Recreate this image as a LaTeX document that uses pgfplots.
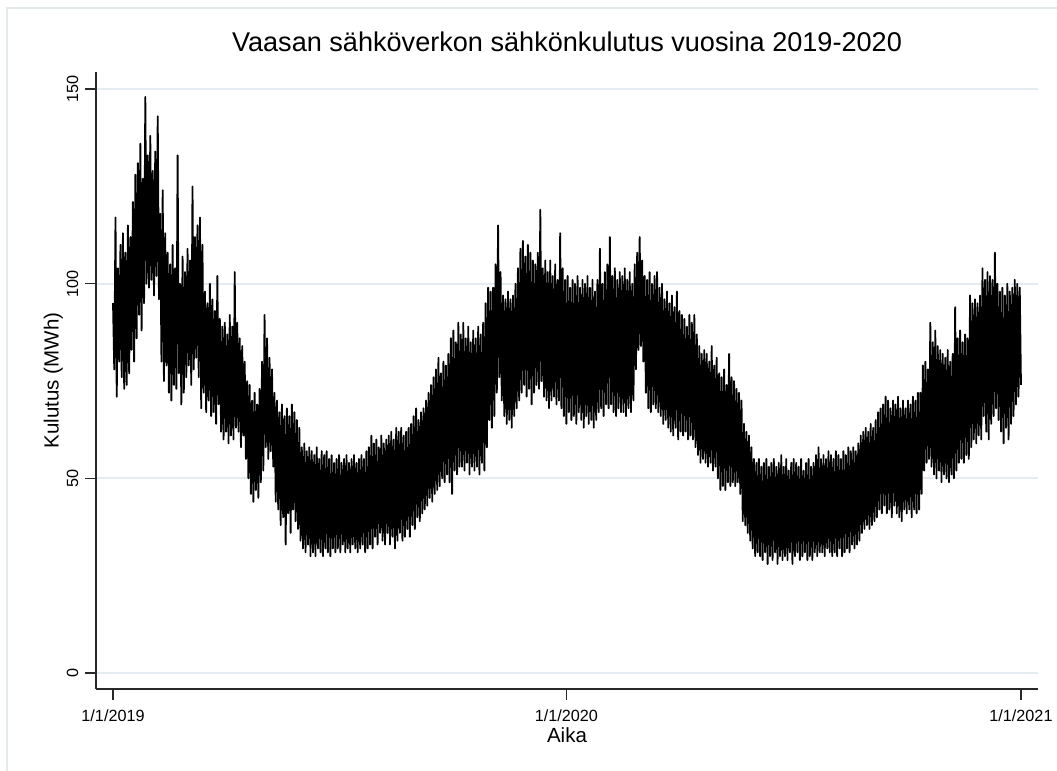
\documentclass[border=0pt]{standalone}
\usepackage{fontspec}
\setmainfont{Liberation Sans}
\usepackage{pgfplots}
\pgfplotsset{compat=1.18}
\definecolor{gridc}{RGB}{228,236,239}
\definecolor{framec}{RGB}{226,234,236}
\definecolor{axc}{RGB}{40,40,40}
\begin{document}
\begin{tikzpicture}
\useasboundingbox (0,0) rectangle (528.5pt,385.5pt);
\draw[framec, line width=1pt] (3.5pt,0pt) -- (3.5pt,381.5pt) -- (528.5pt,381.5pt);
\begin{axis}[
  at={(48pt,41pt)}, anchor=south west,
  scale only axis, width=471pt, height=308.5pt,
  xmin=-13.7, xmax=744.7, ymin=-4.1, ymax=154.4,
  axis x line*=bottom, axis y line*=left,
  axis line style={axc, line width=0.8pt, -},
  xtick={0,365,731}, xticklabels={1/1/2019,1/1/2020,1/1/2021},
  ytick={0,50,100,150},
  tick align=outside, major tick length=5.3pt,
  tick style={axc, line width=0.7pt},
  ymajorgrids, major grid style={gridc, line width=1pt},
  ticklabel style={font=\fontsize{8.1}{9.7}\selectfont},
  /pgf/number format/assume math mode=true,
  yticklabel style={rotate=90, anchor=south, inner sep=3.35pt},
  xticklabel style={anchor=north, inner sep=5pt},
  title={Vaasan sähköverkon sähkönkulutus vuosina 2019-2020},
  title style={at={(axis description cs:0.5,1.0135)}, anchor=base, font=\fontsize{13.55}{16}\selectfont, inner sep=0pt},
  xlabel={Aika},
  xlabel style={at={(axis description cs:0.5,-0.087)}, anchor=base, font=\fontsize{10.25}{12}\selectfont, inner sep=0pt},
  ylabel={Kulutus (MWh)},
  ylabel style={at={(axis description cs:-0.0398,0.5)}, anchor=base, font=\fontsize{10.25}{12}\selectfont, inner sep=0pt},
]
\addplot[black, line width=0.9pt, line join=round] coordinates {
(0,95)(1,78)(2,117)(3,71)(4,104)(5,80)(6,110)(7,76)(8,113)(9,73)
(10,108)(11,74)(12,115)(13,77)(14,112)(15,83)(16,121)(17,80)(18,128)(19,86)
(20,131)(21,92)(22,136)(23,88)(24,127)(25,95)(26,148)(27,100)(28,133)(29,99)
(30,138)(31,101)(32,129)(33,97)(34,134)(35,102)(36,143)(37,96)(38,118)(39,80)
(40,124)(41,75)(42,113)(43,79)(44,108)(45,72)(46,105)(47,70)(48,110)(49,74)
(50,104)(51,73)(52,133)(53,77)(54,100)(55,69)(56,107)(57,72)(58,103)(59,76)
(60,109)(61,79)(62,106)(63,74)(64,125)(65,78)(66,112)(67,81)(68,115)(69,76)
(70,117)(71,68)(72,110)(73,72)(74,98)(75,67)(76,95)(77,70)(78,100)(79,66)
(80,96)(81,67)(82,93)(83,64)(84,102)(85,69)(86,91)(87,62)(88,89)(89,60)
(90,90)(91,62)(92,87)(93,59)(94,92)(95,61)(96,89)(97,60)(98,103)(99,63)
(100,90)(101,62)(102,86)(103,58)(104,84)(105,61)(106,80)(107,55)(108,75)(109,50)
(110,74)(111,46)(112,70)(113,44)(114,72)(115,47)(116,69)(117,45)(118,73)(119,49)
(120,80)(121,52)(122,92)(123,58)(124,86)(125,55)(126,81)(127,57)(128,78)(129,53)
(130,72)(131,44)(132,70)(133,42)(134,67)(135,38)(136,69)(137,40)(138,66)(139,33)
(140,68)(141,41)(142,66)(143,36)(144,69)(145,42)(146,67)(147,39)(148,65)(149,37)
(150,63)(151,34)(152,58)(153,32)(154,59)(155,31)(156,57)(157,33)(158,58)(159,30)
(160,57)(161,31)(162,56)(163,30)(164,58)(165,32)(166,55)(167,31)(168,57)(169,30)
(170,56)(171,32)(172,57)(173,31)(174,55)(175,30)(176,56)(177,32)(178,54)(179,31)
(180,55)(181,32)(182,56)(183,31)(184,54)(185,33)(186,55)(187,31)(188,56)(189,32)
(190,54)(191,31)(192,55)(193,33)(194,56)(195,32)(196,54)(197,31)(198,55)(199,32)
(200,56)(201,33)(202,55)(203,31)(204,57)(205,32)(206,58)(207,33)(208,61)(209,32)
(210,59)(211,35)(212,60)(213,33)(214,58)(215,36)(216,61)(217,34)(218,59)(219,33)
(220,60)(221,36)(222,61)(223,33)(224,62)(225,35)(226,60)(227,32)(228,63)(229,34)
(230,62)(231,36)(232,63)(233,34)(234,61)(235,35)(236,62)(237,37)(238,63)(239,35)
(240,64)(241,38)(242,66)(243,37)(244,68)(245,40)(246,65)(247,39)(248,67)(249,41)
(250,68)(251,42)(252,70)(253,43)(254,72)(255,45)(256,74)(257,44)(258,76)(259,46)
(260,78)(261,47)(262,81)(263,48)(264,77)(265,50)(266,80)(267,49)(268,79)(269,51)
(270,82)(271,49)(272,86)(273,46)(274,88)(275,52)(276,85)(277,51)(278,90)(279,53)
(280,87)(281,53)(282,90)(283,52)(284,86)(285,54)(286,89)(287,51)(288,85)(289,53)
(290,88)(291,52)(292,86)(293,53)(294,89)(295,51)(296,87)(297,54)(298,90)(299,52)
(300,95)(301,58)(302,99)(303,65)(304,98)(305,63)(306,99)(307,66)(308,105)(309,72)
(310,115)(311,76)(312,103)(313,70)(314,97)(315,66)(316,96)(317,64)(318,98)(319,65)
(320,96)(321,63)(322,97)(323,66)(324,100)(325,68)(326,104)(327,70)(328,109)(329,72)
(330,111)(331,74)(332,107)(333,71)(334,110)(335,73)(336,108)(337,69)(338,106)(339,72)
(340,105)(341,74)(342,108)(343,73)(344,119)(345,75)(346,104)(347,71)(348,106)(349,70)
(350,103)(351,68)(352,106)(353,70)(354,102)(355,71)(356,105)(357,69)(358,101)(359,70)
(360,113)(361,68)(362,104)(363,66)(364,101)(365,64)(366,102)(367,67)(368,99)(369,65)
(370,101)(371,66)(372,100)(373,64)(374,102)(375,67)(376,99)(377,65)(378,101)(379,63)
(380,100)(381,66)(382,102)(383,64)(384,99)(385,65)(386,101)(387,63)(388,98)(389,65)
(390,101)(391,67)(392,109)(393,68)(394,100)(395,66)(396,103)(397,69)(398,105)(399,68)
(400,112)(401,69)(402,102)(403,67)(404,104)(405,66)(406,101)(407,68)(408,103)(409,67)
(410,102)(411,67)(412,104)(413,66)(414,101)(415,68)(416,103)(417,67)(418,100)(419,70)
(420,105)(421,78)(422,108)(423,83)(424,112)(425,84)(426,106)(427,80)(428,102)(429,72)
(430,101)(431,68)(432,103)(433,67)(434,100)(435,69)(436,102)(437,68)(438,103)(439,67)
(440,99)(441,66)(442,100)(443,64)(444,96)(445,65)(446,98)(447,63)(448,95)(449,62)
(450,97)(451,61)(452,94)(453,63)(454,98)(455,60)(456,93)(457,62)(458,92)(459,61)
(460,91)(461,62)(462,89)(463,60)(464,92)(465,61)(466,90)(467,60)(468,92)(469,58)
(470,87)(471,56)(472,84)(473,54)(474,82)(475,55)(476,83)(477,54)(478,82)(479,53)
(480,80)(481,54)(482,84)(483,52)(484,79)(485,53)(486,81)(487,50)(488,77)(489,47)
(490,76)(491,48)(492,78)(493,47)(494,74)(495,49)(496,82)(497,48)(498,76)(499,49)
(500,75)(501,48)(502,73)(503,49)(504,72)(505,46)(506,70)(507,39)(508,64)(509,38)
(510,62)(511,36)(512,61)(513,34)(514,58)(515,32)(516,55)(517,30)(518,54)(519,31)
(520,55)(521,30)(522,53)(523,29)(524,54)(525,31)(526,55)(527,28)(528,53)(529,30)
(530,54)(531,29)(532,55)(533,31)(534,53)(535,28)(536,54)(537,30)(538,56)(539,29)
(540,53)(541,30)(542,55)(543,29)(544,52)(545,31)(546,54)(547,28)(548,55)(549,30)
(550,54)(551,31)(552,53)(553,29)(554,55)(555,30)(556,52)(557,31)(558,54)(559,29)
(560,55)(561,30)(562,53)(563,29)(564,54)(565,31)(566,56)(567,30)(568,58)(569,31)
(570,55)(571,31)(572,56)(573,30)(574,55)(575,32)(576,57)(577,31)(578,56)(579,30)
(580,55)(581,31)(582,57)(583,30)(584,56)(585,32)(586,55)(587,30)(588,57)(589,31)
(590,56)(591,32)(592,58)(593,31)(594,57)(595,33)(596,58)(597,32)(598,57)(599,33)
(600,59)(601,34)(602,61)(603,36)(604,62)(605,37)(606,63)(607,38)(608,62)(609,37)
(610,64)(611,38)(612,63)(613,39)(614,65)(615,40)(616,67)(617,42)(618,68)(619,41)
(620,69)(621,43)(622,71)(623,41)(624,70)(625,42)(626,68)(627,40)(628,70)(629,43)
(630,69)(631,41)(632,71)(633,40)(634,68)(635,39)(636,70)(637,42)(638,68)(639,41)
(640,70)(641,42)(642,69)(643,40)(644,71)(645,42)(646,70)(647,41)(648,72)(649,42)
(650,72)(651,46)(652,79)(653,52)(654,80)(655,54)(656,78)(657,55)(658,90)(659,53)
(660,85)(661,51)(662,88)(663,50)(664,84)(665,52)(666,83)(667,49)(668,82)(669,51)
(670,81)(671,50)(672,83)(673,49)(674,80)(675,51)(676,82)(677,50)(678,94)(679,52)
(680,86)(681,54)(682,88)(683,55)(684,85)(685,54)(686,87)(687,56)(688,86)(689,55)
(690,97)(691,58)(692,95)(693,60)(694,96)(695,59)(696,95)(697,61)(698,97)(699,60)
(700,104)(701,66)(702,101)(703,62)(704,103)(705,60)(706,102)(707,64)(708,101)(709,66)
(710,108)(711,68)(712,100)(713,65)(714,98)(715,62)(716,99)(717,59)(718,97)(719,63)
(720,100)(721,60)(722,98)(723,64)(724,99)(725,66)(726,101)(727,69)(728,100)(729,71)
(730,99)(731,74)
};
\end{axis}
\end{tikzpicture}
\end{document}
